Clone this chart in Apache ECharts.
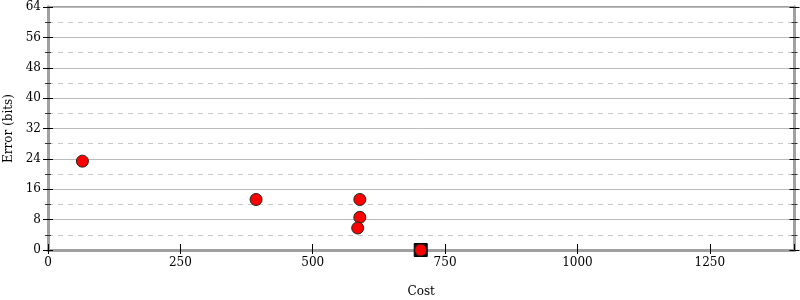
<!DOCTYPE html>
<html><head><meta charset="utf-8">
<script src="https://cdn.jsdelivr.net/npm/echarts@6/dist/echarts.min.js"></script>
<style>html,body{margin:0;padding:0;background:#fff}#c{width:800px;height:300px}</style>
</head><body><div id="c"></div>
<script>
const costs = [65, 393, 589, 589, 585, 704];
const errors = [23.4, 13.3, 13.3, 8.6, 5.8, 0];
const bestCost = [704];
const bestError = [0];
const xTicks = [0, 250, 500, 750, 1000, 1250];
const yTicks = [0, 8, 16, 24, 32, 40, 48, 56, 64];

const FONT = 'DejaVu Serif';
const gray = '#a0a0a0';
const chart = echarts.init(document.getElementById('c'));
function yAxisDef(pos, inside, extra) {
  return Object.assign({
    type: 'value', min: 0, max: 64, interval: 8, position: pos,
    axisLine: {show: true, onZero: false, lineStyle: {color: gray, width: 3}},
    splitLine: {show: false}, axisLabel: {show: false},
    minorTick: {show: true, splitNumber: 2, length: 3, inside: inside, lineStyle: {color: '#333'}},
    axisTick: {show: true, inside: inside, length: 5, lineStyle: {color: '#000'}}
  }, extra || {});
}
chart.setOption({
  animation: false,
  grid: {left: 48, right: 5.5, top: 7, bottom: 50, outerBoundsMode: 'none', containLabel: false,
         show: true, borderColor: gray, borderWidth: 2},
  xAxis: [
    {type: 'value', min: 0, max: 1410, interval: 250, position: 'bottom',
     name: 'Cost', nameLocation: 'middle', nameGap: 36,
     nameTextStyle: {fontFamily: FONT, fontSize: 12, color: '#000'},
     axisLine: {show: true, onZero: false, lineStyle: {color: gray, width: 3}},
     axisTick: {show: true, length: 4, lineStyle: {color: '#000'}},
     axisLabel: {fontFamily: FONT, fontSize: 12, color: '#000', margin: 7, showMaxLabel: false,
       formatter: v => xTicks.includes(v) ? String(v) : ''},
     splitLine: {show: false}},
    {type: 'value', min: 0, max: 1410, interval: 250, position: 'bottom',
     axisLine: {show: false, onZero: false},
     axisTick: {show: true, inside: true, length: 6, lineStyle: {color: '#000'}},
     axisLabel: {show: false}, splitLine: {show: false}}
  ],
  yAxis: [
    yAxisDef('left', false, {
      name: 'Error (bits)', nameLocation: 'middle', nameGap: 32,
      nameTextStyle: {fontFamily: FONT, fontSize: 12, color: '#000'},
      axisLabel: {show: true, fontFamily: FONT, fontSize: 12, color: '#000', margin: 7,
        formatter: v => yTicks.includes(v) ? String(v) : ''},
      splitLine: {show: true, lineStyle: {color: '#bbbbbb', width: 1}},
      minorSplitLine: {show: true, lineStyle: {color: '#c8c8c8', type: [5, 5], width: 1}}}),
    yAxisDef('left', true),
    yAxisDef('right', false),
    yAxisDef('right', true)
  ],
  series: [
    {type: 'scatter', xAxisIndex: 0, yAxisIndex: 0, symbol: 'rect', symbolSize: 13,
     itemStyle: {color: '#111', borderColor: '#000', borderWidth: 1, opacity: 1},
     data: bestCost.map((c, i) => [c, bestError[i]]), z: 2},
    {type: 'scatter', xAxisIndex: 0, yAxisIndex: 0, symbol: 'circle', symbolSize: 12,
     itemStyle: {color: '#ff0000', borderColor: '#222', borderWidth: 1, opacity: 1},
     data: costs.map((c, i) => [c, errors[i]]), z: 3}
  ]
});
</script></body></html>
